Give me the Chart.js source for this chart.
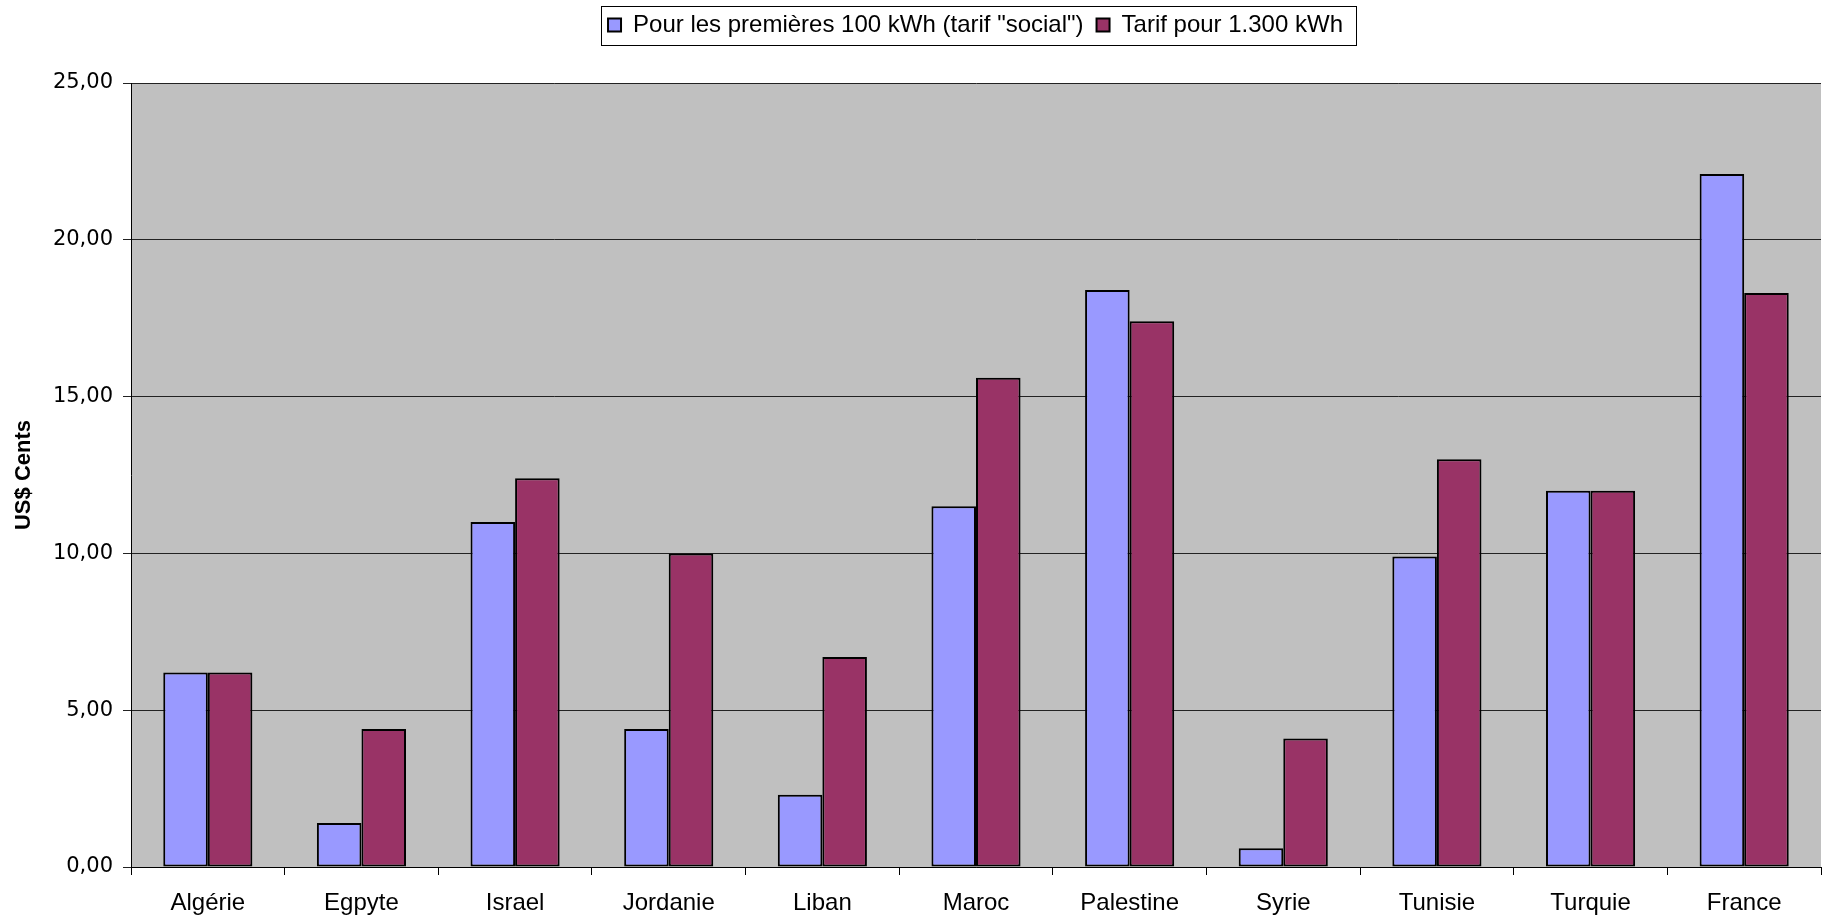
<!DOCTYPE html>
<html>
<head>
<meta charset="utf-8">
<title>Tarifs électricité</title>
<script src="https://cdn.jsdelivr.net/npm/chart.js@4"></script>
<style>
    html, body { margin: 0; padding: 0; background: #ffffff; }
    #wrap { width: 1826px; height: 915px; }
</style>
</head>
<body>
<div id="wrap"><canvas id="tarifChart" width="1826" height="915"></canvas></div>
<script>
// Donnees (US$ cents)
var categories = ['Algérie', 'Egpyte', 'Israel', 'Jordanie', 'Liban', 'Maroc', 'Palestine', 'Syrie', 'Tunisie', 'Turquie', 'France'];
var tarifSocial = [6.2, 1.4, 11.0, 4.4, 2.3, 11.5, 18.4, 0.6, 9.9, 12.0, 22.1];
var tarif1300 = [6.2, 4.4, 12.4, 10.0, 6.7, 15.6, 17.4, 4.1, 13.0, 12.0, 18.3];
var seriesLabels = ['Pour les premières 100 kWh (tarif "social")', 'Tarif pour 1.300 kWh'];
var yMin = 0, yMax = 25, yStep = 5;
var yTitle = 'US$ Cents';

// fond gris de la zone de trace
var plotBackground = {
    id: 'plotBackground',
    beforeDraw: function (chart) {
        var a = chart.chartArea, ctx = chart.ctx;
        ctx.save();
        ctx.fillStyle = '#c0c0c0';
        ctx.fillRect(a.left, a.top, a.right - a.left, a.bottom - a.top);
        ctx.restore();
    }
};

// hauteur de la legende + decalage horizontal + cadre
var legendBox = {
    id: 'legendBox',
    beforeInit: function (chart) {
        var fit = chart.legend.fit;
        chart.legend.fit = function () {
            fit.bind(chart.legend)();
            this.height = 83;
        };
    },
    afterLayout: function (chart) {
        chart.legend.left += 65;
        chart.legend.right += 65;
    },
    afterDraw: function (chart) {
        var boxes = chart.legend.legendHitBoxes;
        if (!boxes || !boxes.length) return;
        var l = Infinity, r = -Infinity, t = Infinity, b = -Infinity;
        boxes.forEach(function (h) {
            l = Math.min(l, h.left);
            r = Math.max(r, h.left + h.width);
            t = Math.min(t, h.top);
            b = Math.max(b, h.top + h.height);
        });
        var ctx = chart.ctx;
        ctx.save();
        ctx.strokeStyle = '#000';
        ctx.lineWidth = 1;
        var mid = (t + b) / 2;
        ctx.strokeRect(Math.round(l - 7) + 0.5, Math.round(mid - 19) + 0.5, Math.round(r - l + 20), 39);
        ctx.restore();
    }
};

new Chart(document.getElementById('tarifChart'), {
    type: 'bar',
    data: {
        labels: categories,
        datasets: [{
            label: seriesLabels[0],
            data: tarifSocial,
            backgroundColor: '#9999ff',
            borderColor: '#000000',
            borderWidth: 2,
            borderSkipped: false
        }, {
            label: seriesLabels[1],
            data: tarif1300,
            backgroundColor: '#993366',
            borderColor: '#000000',
            borderWidth: 2,
            borderSkipped: false
        }]
    },
    options: {
        responsive: false,
        animation: false,
        devicePixelRatio: 1,
        layout: { padding: { left: 0, right: 5, top: 0, bottom: 0 } },
        datasets: {
            bar: { categoryPercentage: 0.58, barPercentage: 1.0 }
        },
        plugins: {
            tooltip: { enabled: false },
            legend: {
                position: 'top',
                labels: {
                    color: '#000',
                    boxWidth: 13,
                    boxHeight: 13,
                    padding: 13,
                    font: { family: 'Liberation Sans', size: 24 }
                }
            }
        },
        scales: {
            x: {
                grid: {
                    offset: true,
                    drawOnChartArea: false,
                    drawTicks: true,
                    tickLength: 8,
                    color: '#000'
                },
                border: { color: '#000', width: 1 },
                ticks: {
                    color: '#000',
                    padding: 14,
                    maxRotation: 0,
                    font: { family: 'Liberation Sans', size: 24 }
                },
                afterFit: function (scale) { scale.height = 48; }
            },
            y: {
                min: yMin,
                max: yMax,
                grid: {
                    color: '#222',
                    lineWidth: 1,
                    tickLength: 8
                },
                border: { color: '#000', width: 1 },
                ticks: {
                    stepSize: yStep,
                    color: '#000',
                    padding: 10,
                    font: { family: 'DejaVu Sans', size: 21 },
                    callback: function (v) { return v.toFixed(2).replace('.', ','); }
                },
                title: {
                    display: true,
                    text: yTitle,
                    color: '#000',
                    padding: { top: 11, bottom: 0 },
                    font: { family: 'Liberation Sans', size: 22, weight: 'bold' }
                },
                afterFit: function (scale) { scale.width = 131; }
            }
        }
    },
    plugins: [plotBackground, legendBox]
});
</script>
</body>
</html>
